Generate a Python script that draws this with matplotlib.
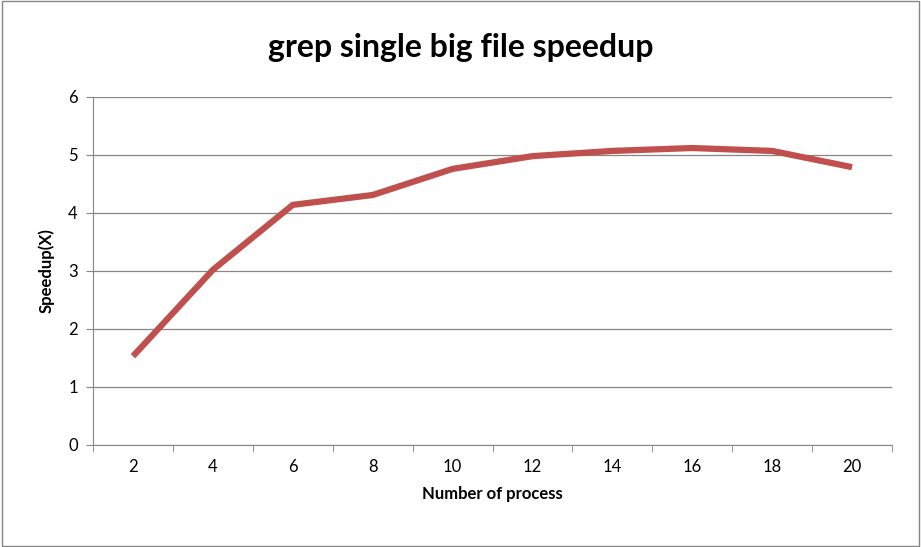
import matplotlib
matplotlib.use("Agg")
import matplotlib.pyplot as plt
import numpy as np

processes = ["2", "4", "6", "8", "10", "12", "14", "16", "18", "20"]
speedup = [1.53, 3.02, 4.14, 4.31, 4.76, 4.98, 5.07, 5.12, 5.07, 4.79]

plt.rcParams['font.family'] = ['Lato', 'DejaVu Sans']

fig = plt.figure(figsize=(9.21, 5.47), dpi=100)
ax = fig.add_axes([0.101, 0.1865, 0.8675, 0.6362])

x = np.arange(len(processes))
ax.plot(x, speedup, color='#c0504d', lw=4.5, solid_capstyle='butt')

ax.set_xlim(-0.5, len(processes) - 0.5)
ax.set_ylim(0, 6)
ax.set_yticks(range(7))
ax.set_xticks(x)
ax.set_xticklabels(processes)
ax.set_xticks(np.arange(-0.5, len(processes)), minor=True)
ax.tick_params(axis='x', which='major', length=0, labelsize=12, pad=10)
ax.tick_params(axis='x', which='minor', length=5, color='#868686')
ax.tick_params(axis='y', length=5, color='#868686', labelsize=12, pad=6)
ax.grid(axis='y', color='#868686', lw=0.9)
ax.set_axisbelow(True)
for s in ['top', 'right']:
    ax.spines[s].set_visible(False)
for s in ['left', 'bottom']:
    ax.spines[s].set_color('#868686')

ax.set_xlabel("Number of process", fontsize=12, fontweight='bold', labelpad=8)
ax.set_ylabel("Speedup(X)", fontsize=12, fontweight='bold', labelpad=10)
fig.text(0.5, 0.914, "grep single big file speedup", ha='center', va='center',
         fontsize=23, fontweight='bold')

fig.patches.append(plt.Rectangle((0.002, 0.002), 0.996, 0.996, transform=fig.transFigure,
                                 fill=False, edgecolor='#868686', lw=1))

fig.savefig("out.png", dpi=100)
